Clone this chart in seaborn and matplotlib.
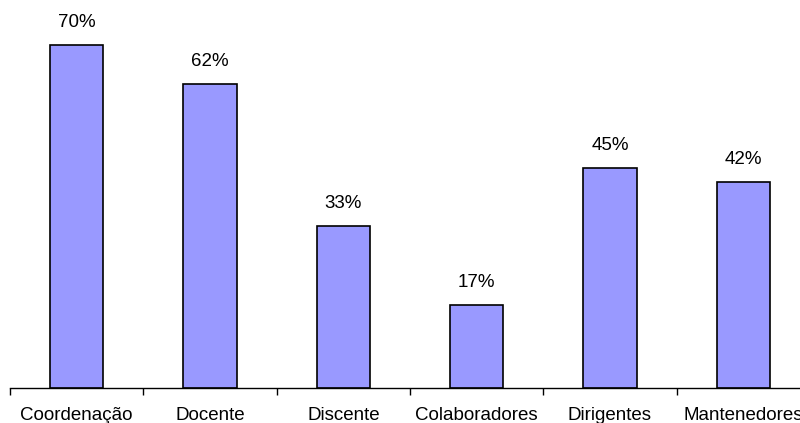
import matplotlib
matplotlib.use("Agg")
import matplotlib.pyplot as plt
import seaborn as sns
import pandas as pd

categories = ["Coordenação", "Docente", "Discente", "Colaboradores", "Dirigentes", "Mantenedores"]
values = [70, 62, 33, 17, 45, 42]

sns.set_style("white")
plt.rcParams["font.family"] = ["Liberation Sans", "DejaVu Sans"]
plt.rcParams["text.color"] = "black"
plt.rcParams["xtick.color"] = "black"

df = pd.DataFrame({"grupo": categories, "pct": values})

fig = plt.figure(figsize=(8, 4.23), dpi=100)
ax = fig.add_axes([0.0125, 0.0827, 1.0, 0.9173])

sns.barplot(data=df, x="grupo", y="pct", color="#9999FF", saturation=1,
            edgecolor="black", linewidth=1.2, width=0.4, ax=ax)

ax.set_xlim(-0.5, len(categories) - 0.5)
ax.set_ylim(0, 79.2)

for i, v in enumerate(values):
    ax.annotate(f"{v}%", (i, v), xytext=(0, 10), textcoords="offset points",
                ha="center", va="bottom", fontsize=13.5, color="black")

for s in ["top", "right", "left"]:
    ax.spines[s].set_visible(False)
ax.spines["bottom"].set_color("black")
ax.spines["bottom"].set_linewidth(1.0)

ax.set_yticks([])
ax.set_xticks([i - 0.5 for i in range(len(categories) + 1)], minor=False)
ax.set_xticklabels([])
ax.tick_params(axis="x", which="major", direction="out", length=5, width=1, color="black", bottom=True)
ax.set_xticks(range(len(categories)), minor=True)
ax.set_xticklabels(categories, minor=True, fontsize=13.5, color="black")
ax.tick_params(axis="x", which="minor", length=0, pad=14)
ax.set_xlabel("")
ax.set_ylabel("")

fig.savefig("out.png", dpi=100)
